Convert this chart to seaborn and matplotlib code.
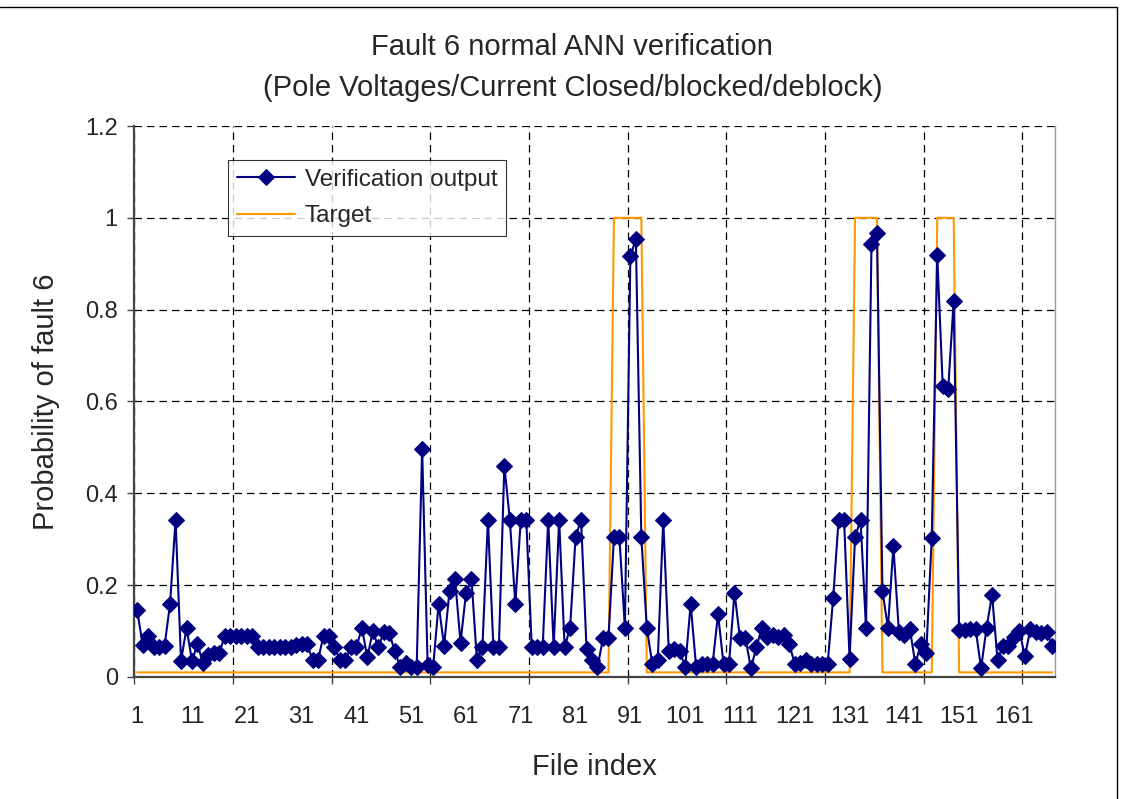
import matplotlib
matplotlib.use("Agg")
import matplotlib.pyplot as plt
import seaborn as sns
import pandas as pd
import numpy as np
from matplotlib.lines import Line2D

# ---------------------------------------------------------------
# Data
# ---------------------------------------------------------------
file_index = list(range(1, 169))

verification_output = [
    0.145, 0.07, 0.09, 0.065, 0.065, 0.068, 0.16, 0.343, 0.035, 0.107, 0.035, 0.072,
    0.03, 0.048, 0.052, 0.053, 0.09, 0.09, 0.09, 0.09, 0.09, 0.09, 0.065, 0.065,
    0.065, 0.065, 0.065, 0.065, 0.065, 0.07, 0.072, 0.072, 0.037, 0.037, 0.09, 0.09,
    0.065, 0.037, 0.037, 0.065, 0.065, 0.107, 0.043, 0.1, 0.065, 0.097, 0.095, 0.057,
    0.021, 0.031, 0.021, 0.021, 0.497, 0.026, 0.021, 0.159, 0.068, 0.188, 0.214, 0.075,
    0.182, 0.214, 0.036, 0.065, 0.343, 0.065, 0.065, 0.46, 0.343, 0.159, 0.343, 0.343,
    0.065, 0.065, 0.065, 0.343, 0.065, 0.343, 0.065, 0.107, 0.304, 0.343, 0.062, 0.038,
    0.021, 0.084, 0.084, 0.304, 0.304, 0.107, 0.916, 0.954, 0.304, 0.107, 0.028, 0.037,
    0.343, 0.057, 0.062, 0.057, 0.021, 0.159, 0.022, 0.028, 0.028, 0.028, 0.137, 0.028,
    0.028, 0.184, 0.084, 0.084, 0.019, 0.065, 0.107, 0.088, 0.091, 0.088, 0.091, 0.072,
    0.028, 0.031, 0.038, 0.028, 0.028, 0.028, 0.028, 0.171, 0.343, 0.343, 0.04, 0.304,
    0.343, 0.107, 0.942, 0.967, 0.188, 0.107, 0.285, 0.099, 0.091, 0.105, 0.029, 0.071,
    0.053, 0.303, 0.92, 0.634, 0.628, 0.819, 0.103, 0.103, 0.105, 0.105, 0.019, 0.107,
    0.179, 0.038, 0.067, 0.067, 0.088, 0.1, 0.045, 0.105, 0.098, 0.095, 0.097, 0.067,
]

target = [
    0.01, 0.01, 0.01, 0.01, 0.01, 0.01, 0.01, 0.01, 0.01, 0.01, 0.01, 0.01,
    0.01, 0.01, 0.01, 0.01, 0.01, 0.01, 0.01, 0.01, 0.01, 0.01, 0.01, 0.01,
    0.01, 0.01, 0.01, 0.01, 0.01, 0.01, 0.01, 0.01, 0.01, 0.01, 0.01, 0.01,
    0.01, 0.01, 0.01, 0.01, 0.01, 0.01, 0.01, 0.01, 0.01, 0.01, 0.01, 0.01,
    0.01, 0.01, 0.01, 0.01, 0.01, 0.01, 0.01, 0.01, 0.01, 0.01, 0.01, 0.01,
    0.01, 0.01, 0.01, 0.01, 0.01, 0.01, 0.01, 0.01, 0.01, 0.01, 0.01, 0.01,
    0.01, 0.01, 0.01, 0.01, 0.01, 0.01, 0.01, 0.01, 0.01, 0.01, 0.01, 0.01,
    0.01, 0.01, 0.01, 1, 1, 1, 1, 1, 1, 0.01, 0.01, 0.01,
    0.01, 0.01, 0.01, 0.01, 0.01, 0.01, 0.01, 0.01, 0.01, 0.01, 0.01, 0.01,
    0.01, 0.01, 0.01, 0.01, 0.01, 0.01, 0.01, 0.01, 0.01, 0.01, 0.01, 0.01,
    0.01, 0.01, 0.01, 0.01, 0.01, 0.01, 0.01, 0.01, 0.01, 0.01, 0.01, 1,
    1, 1, 1, 1, 0.01, 0.01, 0.01, 0.01, 0.01, 0.01, 0.01, 0.01,
    0.01, 0.01, 1, 1, 1, 1, 0.01, 0.01, 0.01, 0.01, 0.01, 0.01,
    0.01, 0.01, 0.01, 0.01, 0.01, 0.01, 0.01, 0.01, 0.01, 0.01, 0.01, 0.01,
]

x_labels = [1, 11, 21, 31, 41, 51, 61, 71, 81, 91, 101, 111, 121, 131, 141, 151, 161]
y_ticks = [0, 0.2, 0.4, 0.6, 0.8, 1, 1.2]
y_labels = ["0", "0.2", "0.4", "0.6", "0.8", "1", "1.2"]

NAVY, ORANGE = "#000080", "#FF9900"

# ---------------------------------------------------------------
# Plot
# ---------------------------------------------------------------
sns.set_style("white")
plt.rcParams["font.family"] = ["Liberation Sans", "DejaVu Sans"]

df = pd.DataFrame({"file": file_index, "output": verification_output, "target": target})

fig = plt.figure(figsize=(11.29, 7.99), dpi=100)
fig.patch.set_facecolor("white")
ax = fig.add_axes([0.1191, 0.1527, 0.8154, 0.6896])

sns.lineplot(data=df, x="file", y="output", ax=ax, color=NAVY, lw=1.5,
             marker="D", markersize=8, markeredgecolor=NAVY,
             label="Verification output", zorder=3)
sns.lineplot(data=df, x="file", y="target", ax=ax, color=ORANGE, lw=1.5,
             label="Target", zorder=2)

n = len(file_index)
ax.set_xlim(0.5, n + 0.5)
ax.set_ylim(0, 1.2)

# gridlines / tick marks every 18 categories (Excel style), labels every 10
ax.set_xticks(np.arange(0.5, n + 0.6, 18))
ax.set_xticklabels([])
ax.set_xticks(x_labels, minor=True)
ax.set_xticklabels([str(v) for v in x_labels], minor=True, fontsize=17)
ax.tick_params(axis="x", which="major", direction="out", length=5, width=1,
               color="#444444", bottom=True)
ax.tick_params(axis="x", which="minor", length=0, pad=21)
ax.set_yticks(y_ticks)
ax.set_yticklabels(y_labels, fontsize=17)
ax.tick_params(axis="y", direction="out", length=5, width=1, color="#444444",
               left=True, pad=7)

ax.grid(True, which="major", color="black", ls=(0, (6, 4)), lw=0.9)
ax.set_axisbelow(True)
ax.spines["top"].set_visible(False)
ax.spines["right"].set_color("#999999")
ax.spines["right"].set_linewidth(1)
for side in ["left", "bottom"]:
    ax.spines[side].set_color("#444444")
    ax.spines[side].set_linewidth(1.6)

ax.set_xlabel("File index", fontsize=21, labelpad=18)
ax.set_ylabel("Probability of fault 6", fontsize=21, labelpad=18)

fig.text(0.507, 0.941, "Fault 6 normal ANN verification",
         ha="center", va="center", fontsize=21)
fig.text(0.507, 0.89, "(Pole Voltages/Current Closed/blocked/deblock)",
         ha="center", va="center", fontsize=21)

leg = ax.legend(loc="upper left", bbox_to_anchor=(0.1016, 0.938),
                borderaxespad=0, fontsize=17.5, frameon=True, fancybox=False,
                edgecolor="black", handlelength=2.4, handletextpad=0.4,
                labelspacing=0.6, borderpad=0.35)
leg.get_frame().set_linewidth(0.8)

# chart-area border
fig.add_artist(Line2D([0, 1117 / 1129], [1 - 7 / 799, 1 - 7 / 799],
                      transform=fig.transFigure, color="black", lw=1))
fig.add_artist(Line2D([1117 / 1129, 1117 / 1129], [0, 1 - 7 / 799],
                      transform=fig.transFigure, color="black", lw=1))

fig.savefig("out.png", dpi=100, facecolor="white")
plt.close(fig)
